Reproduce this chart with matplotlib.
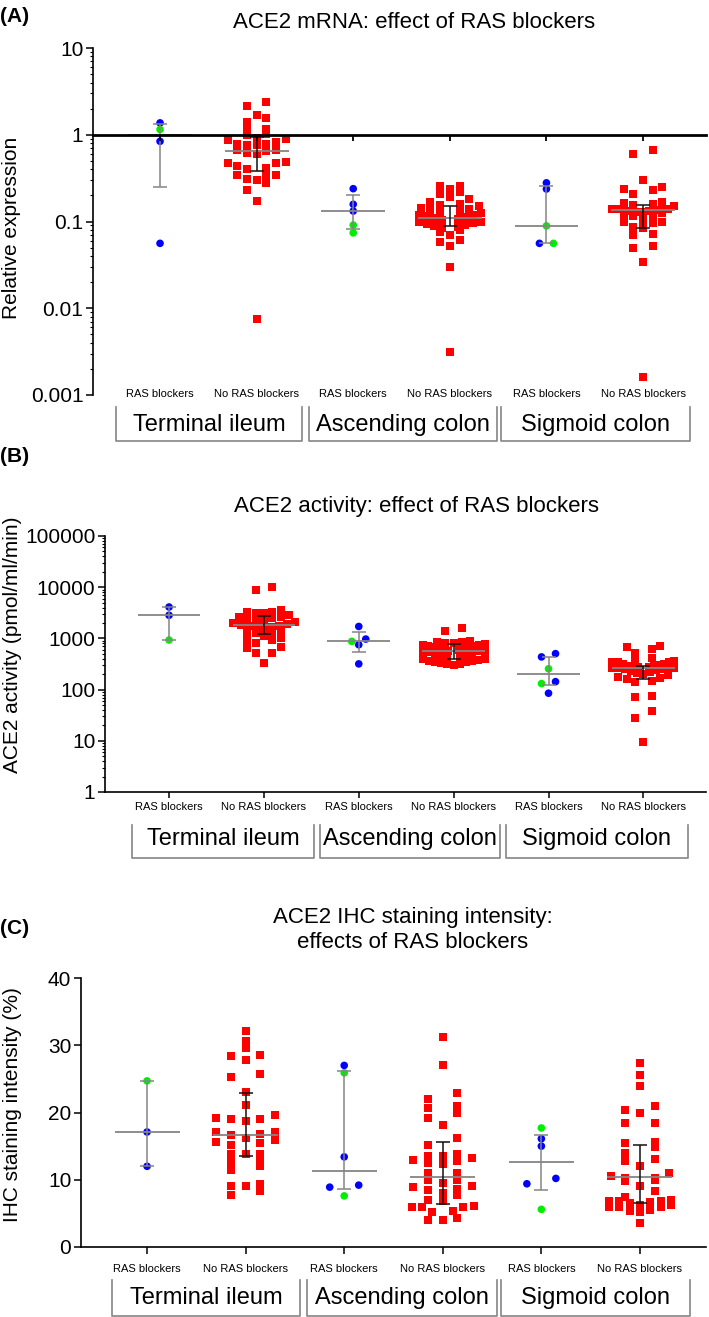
import numpy as np
import matplotlib
matplotlib.use('Agg')
import matplotlib.pyplot as plt
from matplotlib.lines import Line2D
from matplotlib.ticker import LogLocator, NullFormatter

plt.rcParams['font.family'] = ['Liberation Sans', 'DejaVu Sans']

W, H = 709, 1317

# ---------------- data ----------------
group_labels = ['RAS blockers', 'No RAS blockers'] * 3
sites = ['Terminal ileum', 'Ascending colon', 'Sigmoid colon']

# (A) ACE2 mRNA relative expression
mrna_ras_blue = [[1.37, 0.84, 0.056], [0.239, 0.158, 0.132], [0.279, 0.237, 0.056]]
mrna_ras_green = [[1.15], [0.091, 0.074], [0.089, 0.056]]
mrna_no_ras = [
    [2.41, 2.13, 1.69, 1.55, 1.40, 1.17, 1.14, 1.01, 0.99, 0.92, 0.90, 0.86, 0.82,
     0.79, 0.79, 0.77, 0.755, 0.662, 0.66, 0.644, 0.617, 0.606, 0.49, 0.478, 0.478,
     0.434, 0.419, 0.408, 0.342, 0.342, 0.342, 0.308, 0.30, 0.275, 0.231, 0.172, 0.0076],
    [0.26, 0.255, 0.24, 0.22, 0.21, 0.19, 0.18, 0.17, 0.16, 0.155, 0.15, 0.145, 0.14,
     0.135, 0.13, 0.128, 0.125, 0.12, 0.118, 0.115, 0.112, 0.11, 0.108, 0.105, 0.10,
     0.098, 0.095, 0.093, 0.09, 0.088, 0.087, 0.085, 0.08, 0.075, 0.07, 0.062, 0.058,
     0.052, 0.0295, 0.0031],
    [0.673, 0.606, 0.298, 0.25, 0.24, 0.23, 0.21, 0.17, 0.165, 0.16, 0.155, 0.15, 0.14,
     0.14, 0.138, 0.136, 0.135, 0.134, 0.133, 0.132, 0.13, 0.128, 0.125, 0.12, 0.118,
     0.115, 0.105, 0.10, 0.098, 0.095, 0.087, 0.084, 0.072, 0.069, 0.052, 0.049, 0.034,
     0.0016],
]
mrna_median = [0.995, 0.644, 0.132, 0.111, 0.089, 0.134]
mrna_q1 = [0.252, 0.387, 0.082, 0.089, 0.056, 0.084]
mrna_q3 = [1.315, 0.94, 0.20, 0.149, 0.258, 0.155]

# (B) ACE2 activity (pmol/ml/min)
act_ras_blue = [[4100, 2830], [1710, 970, 752, 318], [504, 435, 143, 85]]
act_ras_green = [[929], [875], [255, 131]]
act_no_ras = [
    [10000, 9000, 3640, 3280, 3280, 3160, 3160, 2820, 2630, 2630, 2450, 2450, 2265,
     2200, 2100, 2000, 1900, 1800, 1740, 1740, 1680, 1600, 1550, 1450, 1350, 1250,
     1250, 1100, 1000, 930, 930, 800, 690, 640, 510, 510, 328],
    [1600, 1380, 900, 860, 840, 820, 800, 780, 760, 740, 720, 700, 680, 660, 640, 620,
     600, 590, 580, 575, 570, 560, 540, 520, 500, 480, 460, 440, 420, 400, 390, 380,
     370, 360, 350, 340, 330, 320, 310, 300],
    [710, 670, 612, 526, 420, 380, 360, 350, 340, 340, 320, 310, 300, 295, 290, 285,
     280, 275, 270, 268, 265, 260, 255, 250, 240, 230, 220, 210, 200, 190, 180, 170,
     160, 150, 140, 74, 72, 38, 28, 9.5],
]
act_median = [2830, 1810, 875, 575, 201, 270]
act_q1 = [929, 1195, 535, 398, 121, 161]
act_q3 = [4100, 2750, 1343, 776, 435, 291]

# (C) IHC staining intensity (%)
ihc_ras_blue = [[17.1, 12.0], [27.0, 13.4, 9.2, 8.9], [16.1, 15.0, 10.2, 9.4]]
ihc_ras_green = [[24.7], [25.9, 7.6], [17.7, 5.6]]
ihc_no_ras = [
    [32.1, 30.7, 29.6, 28.6, 28.4, 27.8, 25.7, 25.3, 23.1, 21.1, 19.6, 19.2, 19.1,
     19.1, 18.7, 17.1, 17.1, 16.8, 16.6, 16.2, 15.9, 15.6, 15.5, 15.1, 13.9, 13.8,
     13.8, 13.3, 12.6, 12.1, 11.5, 9.3, 9.0, 9.0, 8.3, 7.7],
    [31.2, 27.1, 22.9, 22.0, 21.0, 20.7, 20.0, 19.2, 18.1, 16.2, 15.2, 13.8, 13.6,
     13.5, 13.3, 12.9, 12.8, 12.5, 12.3, 11.0, 11.0, 10.0, 9.9, 9.5, 9.0, 8.9, 8.6,
     8.5, 8.0, 7.8, 7.0, 6.9, 6.1, 6.0, 6.0, 6.0, 5.3, 5.2, 4.3, 4.0, 4.0],
    [27.3, 25.6, 24.0, 20.9, 20.4, 19.9, 18.5, 18.5, 15.6, 15.5, 14.8, 14.0, 13.1,
     12.8, 12.1, 11.0, 10.5, 10.3, 10.2, 10.0, 9.8, 9.0, 8.4, 7.5, 7.0, 6.9, 6.9, 6.8,
     6.7, 6.5, 6.3, 6.2, 6.0, 6.0, 5.9, 5.5, 5.3, 5.2, 3.6],
]
ihc_median = [17.1, 16.7, 11.3, 10.45, 12.6, 10.45]
ihc_q1 = [12.0, 13.6, 8.6, 6.4, 8.5, 6.6]
ihc_q3 = [24.7, 22.9, 26.2, 15.6, 16.6, 15.2]

BLUE = '#0000ff'
GREEN = '#00ee00'
RED = '#ff0000'
GRAY = '#858585'


def fx(x):
    return x / W


def fy(y):
    return 1 - y / H


def make_axes(left, right, top, bottom):
    return fig.add_axes([fx(left), fy(bottom), (right - left) / W, (bottom - top) / H])


def swarm_offsets(ax, values, bin_px, step_px, max_half_px):
    """GraphPad-like horizontal offsets (in pixels), points binned in screen rows"""
    vals = np.asarray(values, float)
    ypix = ax.transData.transform(np.column_stack([np.ones_like(vals), vals]))[:, 1]
    order = np.argsort(ypix)
    offs = np.zeros(len(vals))
    i = 0
    while i < len(order):
        j = i
        while j + 1 < len(order) and ypix[order[j + 1]] - ypix[order[i]] < bin_px:
            j += 1
        members = order[i:j + 1]
        n = len(members)
        seq = [s * k for k in range(1, n + 1) for s in (-1, 1)]
        if n % 2:
            seq = [0] + seq
        cols = np.array(seq[:n], float)
        widest = np.abs(cols).max() if n > 1 else 1
        step = min(step_px, max_half_px / widest)
        offs[members] = cols * step
        i = j + 1
    return offs


def draw_groups(ax, ras_blue, ras_green, no_ras, median, q1, q3, circ_px, sq_px):
    x0 = ax.transData.transform((0, 1))[0]
    x1 = ax.transData.transform((1, 1))[0]
    ppu = x1 - x0
    for i in range(3):
        p_ras, p_no = 2 * i + 1, 2 * i + 2
        vals = np.array(ras_blue[i] + ras_green[i], float)
        colors = [BLUE] * len(ras_blue[i]) + [GREEN] * len(ras_green[i])
        offs = swarm_offsets(ax, vals, 6, circ_px, 16)
        ax.scatter(p_ras + offs / ppu, vals, c=colors, s=30, marker='o',
                   linewidths=0, zorder=2, clip_on=False)
        vals = np.array(no_ras[i], float)
        offs = swarm_offsets(ax, vals, 7, sq_px, 31)
        ax.scatter(p_no + offs / ppu, vals, c=RED, s=30, marker='s',
                   linewidths=0, zorder=2, clip_on=False)
    for k in range(6):
        pos = k + 1
        ecol = GRAY if k % 2 == 0 else '#111111'
        ax.hlines(median[k], pos - 0.33, pos + 0.33, color=GRAY, lw=1.3, zorder=3)
        ax.errorbar([pos], [median[k]], yerr=[[median[k] - q1[k]], [q3[k] - median[k]]],
                    fmt='none', ecolor=ecol, elinewidth=1.1, capsize=5, capthick=1.1,
                    zorder=3)


def style_axes(ax):
    for s in ['top', 'right']:
        ax.spines[s].set_visible(False)
    ax.spines['left'].set_linewidth(1.2)
    ax.spines['bottom'].set_linewidth(1.2)
    ax.tick_params(axis='y', which='major', length=5, width=1.1, labelsize=15, pad=2)
    ax.tick_params(axis='y', which='minor', length=2.5, width=0.8)


def site_boxes(top, bottom, spans, text_y):
    for (l, r), name in zip(spans, sites):
        fig.add_artist(Line2D([fx(l), fx(l), fx(r), fx(r)], [fy(top), fy(bottom), fy(bottom), fy(top)],
                              transform=fig.transFigure, color=GRAY, lw=1.2))
        fig.text(fx((l + r) / 2), fy(text_y), name, fontsize=17, ha='center', va='center')


fig = plt.figure(figsize=(W / 100, H / 100), dpi=100)

# ---------------- (A) ----------------
axA = make_axes(93, 706, 48, 395)
axA.set_yscale('log')
axA.set_ylim(1e-3, 10)
axA.set_xlim(0.306, 6.652)
axA.set_yticks([1e-3, 1e-2, 1e-1, 1, 10], ['0.001', '0.01', '0.1', '1', '10'])
axA.yaxis.set_minor_locator(LogLocator(base=10, subs=np.arange(2, 10), numticks=20))
axA.yaxis.set_minor_formatter(NullFormatter())
style_axes(axA)
axA.spines['bottom'].set_visible(False)
axA.set_xticks(range(1, 7), group_labels)
axA.tick_params(axis='x', length=0, labelsize=8, pad=-4)
draw_groups(axA, mrna_ras_blue, mrna_ras_green, mrna_no_ras, mrna_median, mrna_q1, mrna_q3, 7, 9.7)
secA = axA.secondary_xaxis(0.75)
secA.set_xticks(range(1, 7))
secA.tick_params(axis='x', direction='in', length=4, width=1.3, labeltop=False, labelbottom=False)
secA.spines['top'].set_linewidth(2)
secA.set_zorder(4)

fig.text(fx(0), fy(16), '(A)', fontsize=15, fontweight='bold', ha='left', va='center')
fig.text(fx(414), fy(22), 'ACE2 mRNA: effect of RAS blockers', fontsize=16, ha='center', va='center')
fig.text(fx(12), fy(228), 'Relative expression', fontsize=15, rotation=90, ha='center', va='center')
site_boxes(407, 441, [(116, 302), (309, 497), (501, 690)], 425)

# ---------------- (B) ----------------
axB = make_axes(105, 706, 536, 792)
axB.set_yscale('log')
axB.set_ylim(1, 1e5)
axB.set_xlim(0.325, 6.66)
axB.set_yticks([1, 10, 100, 1000, 1e4, 1e5], ['1', '10', '100', '1000', '10000', '100000'])
axB.yaxis.set_minor_locator(LogLocator(base=10, subs=np.arange(2, 10), numticks=20))
axB.yaxis.set_minor_formatter(NullFormatter())
style_axes(axB)
axB.set_xticks(range(1, 7), group_labels)
axB.tick_params(axis='x', length=4, width=1.1, labelsize=8, pad=3)
draw_groups(axB, act_ras_blue, act_ras_green, act_no_ras, act_median, act_q1, act_q3, 7, 8.3)

fig.text(fx(0), fy(457), '(B)', fontsize=15, fontweight='bold', ha='left', va='center')
fig.text(fx(416), fy(507), 'ACE2 activity: effect of RAS blockers', fontsize=16, ha='center', va='center')
fig.text(fx(13), fy(645), 'ACE2 activity (pmol/ml/min)', fontsize=15, rotation=90, ha='center', va='center')
site_boxes(825, 858, [(132, 314), (320, 500), (506, 688)], 839)

# ---------------- (C) ----------------
axC = make_axes(81, 706, 978, 1247)
axC.set_ylim(0, 40)
axC.set_xlim(0.33, 6.67)
axC.set_yticks([0, 10, 20, 30, 40])
style_axes(axC)
axC.set_xticks(range(1, 7), group_labels)
axC.tick_params(axis='x', length=5, width=1.1, labelsize=8, pad=7)
draw_groups(axC, ihc_ras_blue, ihc_ras_green, ihc_no_ras, ihc_median, ihc_q1, ihc_q3, 14.5, 14.7)

fig.text(fx(0), fy(928), '(C)', fontsize=15, fontweight='bold', ha='left', va='center')
fig.text(fx(413), fy(930), 'ACE2 IHC staining intensity:\neffects of RAS blockers', fontsize=16,
         ha='center', va='center', linespacing=1.3)
fig.text(fx(13), fy(1105), 'IHC staining intensity (%)', fontsize=15, rotation=90, ha='center', va='center')
site_boxes(1280, 1316, [(112, 300), (307, 497), (501, 690)], 1298)

fig.savefig('out.png', dpi=100)
